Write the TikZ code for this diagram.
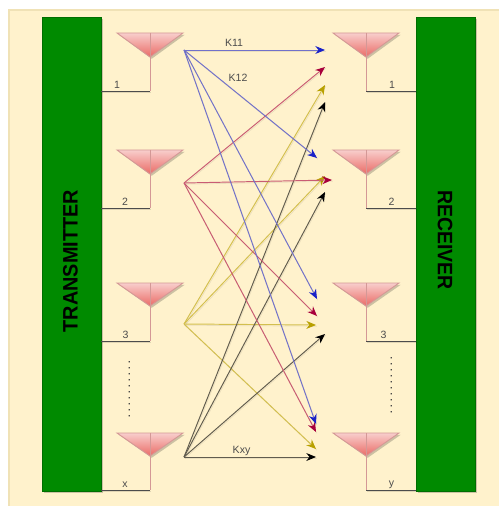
\documentclass[tikz,border=0pt]{standalone}
\usepackage{fontspec}
\setmainfont{Liberation Sans}
\usetikzlibrary{arrows.meta,shadows}
\definecolor{creamfill}{HTML}{FFF2CC}
\definecolor{creamline}{HTML}{F0E2B6}
\definecolor{blockgreen}{HTML}{008A00}
\definecolor{antlight}{HTML}{F8CECC}
\definecolor{antdark}{HTML}{EA6B66}
\definecolor{antline}{HTML}{B85450}
\definecolor{kblue}{HTML}{1A22C8}
\definecolor{kred}{HTML}{A8003C}
\definecolor{kyellow}{HTML}{B8A000}
\tikzset{
  softshadow/.style={drop shadow={shadow xshift=1pt,shadow yshift=-1pt,opacity=.2,fill=black}},
  blockbox/.style={draw=blockgreen!80!black,line width=.3pt,fill=blockgreen,softshadow,minimum width=1.18cm,minimum height=9.48cm,inner sep=0pt},
  blocktext/.style={font=\fontsize{11.9}{12}\selectfont\bfseries,text=black,inner sep=0pt},
  antenna/.style={draw=antline!60,line width=.5pt,top color=antlight,bottom color=antdark,softshadow},
  antmast/.style={draw=antline!60,line width=.5pt},
  antfeed/.style={draw=black!70,line width=.5pt,preaction={draw=black,draw opacity=.12,transform canvas={shift={(.6pt,-.8pt)}}}},
  numtext/.style={font=\fontsize{6}{7}\selectfont,text=black!70,inner sep=0pt},
  dottext/.style={font=\fontsize{5.3}{7}\selectfont\bfseries,text=black!75,inner sep=0pt},
  klink/.style={-{Stealth[length=5.5pt,width=4.5pt,color=#1]},draw=#1!62!creamfill,line width=.55pt,preaction={draw=black,draw opacity=.08,-,transform canvas={shift={(.5pt,-.7pt)}}}},
}
\begin{document}
\begin{tikzpicture}[x=0.02cm,y=-0.02cm]
  \useasboundingbox (0,0) rectangle (499,506);
  \fill[white] (0,0) rectangle (499,506);
  \draw[creamline,fill=creamfill,line width=.6pt] (9,10) rectangle (505,512);
  % blocks
  \node[blockbox] (tx) at (71.5,254) {};
  \node[blockbox] (rx) at (445.5,254) {};
  \node[blocktext,rotate=90] (txtext) at (70.5,261) {\scalebox{.95}[1]{TRANSMITTER}};
  \node[blocktext,rotate=-90] (rxtext) at (445,240) {\scalebox{.93}[1]{RECEIVER}};
  % transmit antennas
  \coordinate (ta1) at (150,33);
  \coordinate (tb1) at (150,57);
  \coordinate (tc1) at (150,91);
  \coordinate (ta2) at (150,150);
  \coordinate (tb2) at (150,174);
  \coordinate (tc2) at (150,208);
  \coordinate (ta3) at (150,283);
  \coordinate (tb3) at (150,306);
  \coordinate (tc3) at (150,341);
  \coordinate (ta4) at (150,433);
  \coordinate (tb4) at (150,456);
  \coordinate (tc4) at (150,490);
  \draw[antenna] (117,33) -- (183,33) -- (tb1) -- cycle;
  \draw[antenna] (117,150) -- (183,150) -- (tb2) -- cycle;
  \draw[antenna] (117,283) -- (183,283) -- (tb3) -- cycle;
  \draw[antenna] (117,433) -- (183,433) -- (tb4) -- cycle;
  \draw[antmast] (ta1) -- (tc1);
  \draw[antmast] (ta2) -- (tc2);
  \draw[antmast] (ta3) -- (tc3);
  \draw[antmast] (ta4) -- (tc4);
  \draw[antfeed] (tc1) -- (tc1 -| tx.east);
  \draw[antfeed] (tc2) -- (tc2 -| tx.east);
  \draw[antfeed] (tc3) -- (tc3 -| tx.east);
  \draw[antfeed] (tc4) -- (tc4 -| tx.east);
  % receive antennas
  \coordinate (ra1) at (366,33);
  \coordinate (rb1) at (366,57);
  \coordinate (rc1) at (366,91);
  \coordinate (ra2) at (366,150);
  \coordinate (rb2) at (366,174);
  \coordinate (rc2) at (366,208);
  \coordinate (ra3) at (366,283);
  \coordinate (rb3) at (366,306);
  \coordinate (rc3) at (366,341);
  \coordinate (ra4) at (366,433);
  \coordinate (rb4) at (366,456);
  \coordinate (rc4) at (366,490);
  \draw[antenna] (333,33) -- (399,33) -- (rb1) -- cycle;
  \draw[antenna] (333,150) -- (399,150) -- (rb2) -- cycle;
  \draw[antenna] (333,283) -- (399,283) -- (rb3) -- cycle;
  \draw[antenna] (333,433) -- (399,433) -- (rb4) -- cycle;
  \draw[antmast] (ra1) -- (rc1);
  \draw[antmast] (ra2) -- (rc2);
  \draw[antmast] (ra3) -- (rc3);
  \draw[antmast] (ra4) -- (rc4);
  \draw[antfeed] (rc1) -- (rc1 -| rx.west);
  \draw[antfeed] (rc2) -- (rc2 -| rx.west);
  \draw[antfeed] (rc3) -- (rc3 -| rx.west);
  \draw[antfeed] (rc4) -- (rc4 -| rx.west);
  % labels
  \node[numtext] (t1) at (117,85) {1};
  \node[numtext] (t2) at (125,202) {2};
  \node[numtext] (t3) at (125.5,334.5) {3};
  \node[numtext] (t4) at (125,485) {x};
  \node[numtext] (r1) at (392,85) {1};
  \node[numtext] (r2) at (391.5,202) {2};
  \node[numtext] (r3) at (383.5,334.5) {3};
  \node[numtext] (r4) at (391.5,485) {y};
  \node[dottext,rotate=90] (tdots) at (129.5,389) {. . . . . . . . . .};
  \node[dottext,rotate=90] (rdots) at (391.5,385) {. . . . . . . . . .};
  \node[numtext] (k11) at (234,43) {K11};
  \node[numtext] (k12) at (238,78) {K12};
  \node[numtext] (kxy) at (241.5,451) {Kxy};
  % link sources and ends
  \coordinate (sb) at (184,50);
  \coordinate (sr) at (184,183);
  \coordinate (sy) at (184,324);
  \coordinate (sk) at (184,457);
  \coordinate (eb1) at (325,50);
  \coordinate (er1) at (325,67);
  \coordinate (ey1) at (325,85);
  \coordinate (ek1) at (325,102);
  \coordinate (eb2) at (317,158);
  \coordinate (ey2) at (325,176);
  \coordinate (er2) at (332,180);
  \coordinate (ek2) at (325,192);
  \coordinate (eb3) at (317,299);
  \coordinate (er3) at (317,316);
  \coordinate (ey3) at (316,325);
  \coordinate (ek3) at (325,334);
  \coordinate (eb4) at (316,424);
  \coordinate (er4) at (316,432);
  \coordinate (ey4) at (316,449);
  \coordinate (ek4) at (316,457);
  \draw[klink=kyellow] (sy) -- (ey1);
  \draw[klink=kyellow] (sy) -- (ey2);
  \draw[klink=kyellow] (sy) -- (ey3);
  \draw[klink=kyellow] (sy) -- (ey4);
  \draw[klink=black] (sk) -- (ek1);
  \draw[klink=black] (sk) -- (ek2);
  \draw[klink=black] (sk) -- (ek3);
  \draw[klink=black] (sk) -- (ek4);
  \draw[klink=kred] (sr) -- (er1);
  \draw[klink=kred] (sr) -- (er2);
  \draw[klink=kred] (sr) -- (er3);
  \draw[klink=kred] (sr) -- (er4);
  \draw[klink=kblue] (sb) -- (eb1);
  \draw[klink=kblue] (sb) -- (eb2);
  \draw[klink=kblue] (sb) -- (eb3);
  \draw[klink=kblue] (sb) -- (eb4);
\end{tikzpicture}
\end{document}
